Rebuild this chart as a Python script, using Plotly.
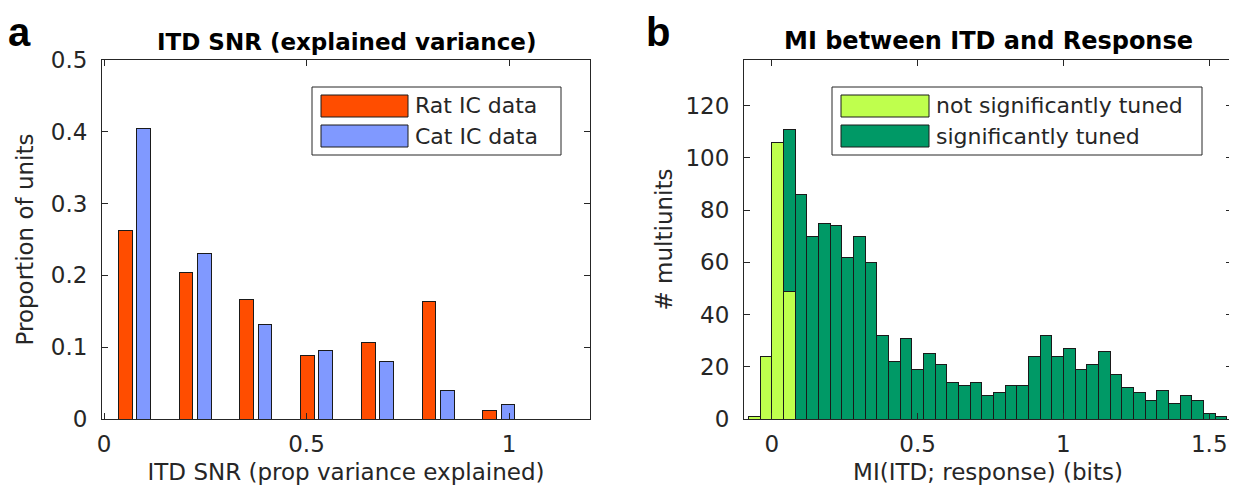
import plotly.graph_objects as go

# ---------------- Panel a data ----------------
snr_group_centers = [0.075, 0.225, 0.375, 0.525, 0.675, 0.825, 0.975]
rat_ic = [0.263, 0.204, 0.167, 0.089, 0.106, 0.164, 0.012]
cat_ic = [0.404, 0.230, 0.131, 0.096, 0.080, 0.040, 0.020]
snr_ticks = [0, 0.5, 1]

# ---------------- Panel b data ----------------
mi_bin_start = -0.08
mi_bin_width = 0.04
n_bins = 41
not_sig_counts = [1, 24, 106, 49]          # bins 1-4
sig_counts = [62, 86, 70, 75, 74, 62, 70, 60, 32, 22, 31,
              19, 25, 21, 14, 13, 14, 9, 10, 13, 13,
              24, 32, 24, 27, 19, 21, 26, 17, 12, 10,
              7, 11, 6, 9, 7, 2, 1]        # bins 4-41
mi_ticks = [0, 0.5, 1, 1.5]

mi_centers = [round(mi_bin_start + mi_bin_width * (i + 0.5), 3) for i in range(n_bins)]
not_sig_x = mi_centers[:len(not_sig_counts)]
sig_x = mi_centers[n_bins - len(sig_counts):]

# ---------------- styling ----------------
W, H = 1237, 497
OFF = 8  # default body margin of the html page
FONT = "DejaVu Sans"
AX = "#262626"
EDGE = "#1a1a1a"
RAT = "#FF4D00"
CAT = "#8099FF"
LIGHT = "#BFFF4D"
DARK = "#009966"

def px(x):
    return (x - OFF) / W

def py(y):
    return 1 - (y - OFF) / H

half = 0.0225
rat_x = [c - half for c in snr_group_centers]
cat_x = [c + half for c in snr_group_centers]

fig = go.Figure()
fig.add_trace(go.Bar(x=rat_x, y=rat_ic, width=0.034, name="Rat IC data",
                     marker=dict(color=RAT, line=dict(color=EDGE, width=1)),
                     xaxis="x", yaxis="y", showlegend=False))
fig.add_trace(go.Bar(x=cat_x, y=cat_ic, width=0.034, name="Cat IC data",
                     marker=dict(color=CAT, line=dict(color=EDGE, width=1)),
                     xaxis="x", yaxis="y", showlegend=False))
fig.add_trace(go.Bar(x=not_sig_x, y=not_sig_counts, width=mi_bin_width,
                     name="not significantly tuned",
                     marker=dict(color=LIGHT, line=dict(color=EDGE, width=1)),
                     xaxis="x2", yaxis="y2", showlegend=False))
fig.add_trace(go.Bar(x=sig_x, y=sig_counts, width=mi_bin_width,
                     name="significantly tuned",
                     marker=dict(color=DARK, line=dict(color=EDGE, width=1)),
                     xaxis="x2", yaxis="y2", showlegend=False))

tick_font = dict(family=FONT, size=23, color=AX)
title_font = dict(family=FONT, size=23, color=AX)
common_ax = dict(showline=True, linecolor=AX, linewidth=1, mirror="ticks",
                 ticks="inside", ticklen=6, tickcolor=AX, showgrid=False,
                 zeroline=False, tickfont=tick_font, automargin=False)

ydom = [py(419), py(60)]
fig.update_layout(
    width=W, height=H,
    margin=dict(l=0, r=0, t=0, b=0, autoexpand=False),
    paper_bgcolor="white", plot_bgcolor="white",
    barmode="stack",
    showlegend=False,
    xaxis=dict(domain=[px(102), px(590)], range=[-0.005, 1.2], tickvals=snr_ticks,
               ticktext=["0", "0.5", "1"], anchor="y", ticklabelstandoff=4,
               title=dict(text="ITD SNR (prop variance explained)", font=title_font, standoff=8),
               **common_ax),
    yaxis=dict(domain=ydom, range=[0, 0.5], tickvals=[0, 0.1, 0.2, 0.3, 0.4, 0.5],
               ticktext=["0", "0.1", "0.2", "0.3", "0.4", "0.5"], anchor="x",
               ticklabelstandoff=9,
               title=dict(text="Proportion of units", font=title_font, standoff=10),
               **common_ax),
    xaxis2=dict(domain=[px(744), px(1232)], range=[-0.095, 1.578], tickvals=mi_ticks,
                ticktext=["0", "0.5", "1", "1.5"], anchor="y2", ticklabelstandoff=4,
                title=dict(text="MI(ITD; response) (bits)", font=title_font, standoff=8),
                **common_ax),
    yaxis2=dict(domain=ydom, range=[0, 137.5], tickvals=[0, 20, 40, 60, 80, 100, 120],
                anchor="x2", ticklabelstandoff=9,
                title=dict(text="# multiunits", font=title_font, standoff=6),
                **common_ax),
)

annotations = [
    dict(text="<b>a</b>", x=px(6), y=py(8), xanchor="left", yanchor="top",
         font=dict(family="Liberation Sans", size=40, color="black")),
    dict(text="<b>b</b>", x=px(644), y=py(8), xanchor="left", yanchor="top",
         font=dict(family="Liberation Sans", size=40, color="black")),
    dict(text="<b>ITD SNR (explained variance)</b>", x=px(346), y=py(57),
         xanchor="center", yanchor="bottom",
         font=dict(family=FONT, size=23, color="black")),
    dict(text="<b>MI between ITD and Response</b>", x=px(988), y=py(57),
         xanchor="center", yanchor="bottom",
         font=dict(family=FONT, size=24, color="black")),
]

shapes = []

def add_legend(box, patch_x, rows, items):
    x0, y0, x1, y1 = box
    shapes.append(dict(type="rect", xref="paper", yref="paper",
                       x0=px(x0), x1=px(x1), y0=py(y1), y1=py(y0),
                       line=dict(color=AX, width=1), fillcolor="white", layer="above"))
    for (label, color), (ry0, ry1) in zip(items, rows):
        shapes.append(dict(type="rect", xref="paper", yref="paper",
                           x0=px(patch_x[0]), x1=px(patch_x[1]), y0=py(ry1), y1=py(ry0),
                           line=dict(color=EDGE, width=1), fillcolor=color, layer="above"))
        annotations.append(dict(text=label, x=px(patch_x[1] + 5), y=py((ry0 + ry1) / 2),
                                xanchor="left", yanchor="middle", showarrow=False,
                                font=dict(family=FONT, size=22, color=AX)))

add_legend((312, 87, 561, 155), (321, 408), [(95, 117), (125, 147)],
           [("Rat IC data", RAT), ("Cat IC data", CAT)])
add_legend((832, 87, 1202, 155), (841, 929), [(95, 117), (125, 147)],
           [("not significantly tuned", LIGHT), ("significantly tuned", DARK)])

for a in annotations:
    a.setdefault("showarrow", False)
    a["xref"] = "paper"
    a["yref"] = "paper"

fig.update_layout(annotations=annotations, shapes=shapes)
fig.write_html("out.html")
